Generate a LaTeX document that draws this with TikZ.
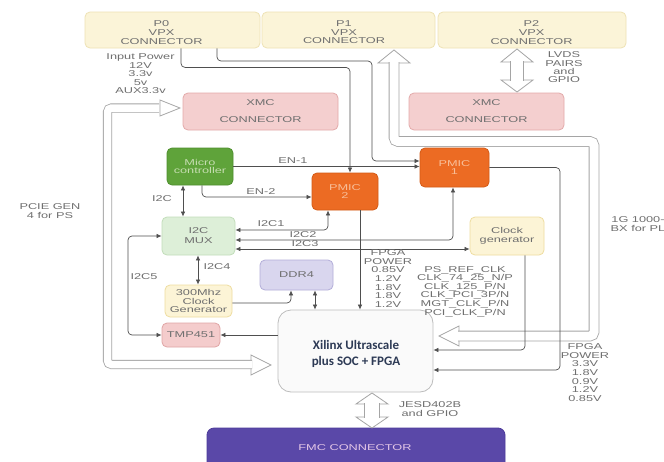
\documentclass[tikz,border=0pt]{standalone}
\usepackage{fontspec}
\newfontfamily\lab[FakeStretch=1.5]{Liberation Sans}
\newfontfamily\xil{Carlito}
\usetikzlibrary{arrows.meta}
\definecolor{labc}{HTML}{6F6F6F}
\definecolor{cline}{HTML}{4F4F4F}
\definecolor{hgray}{HTML}{A5A5A5}
\definecolor{vpxf}{HTML}{FBF4D8}
\definecolor{vpxd}{HTML}{EEE2B5}
\definecolor{xmcf}{HTML}{F4CFCF}
\definecolor{xmcd}{HTML}{E3AAAA}
\definecolor{micf}{HTML}{5FA33A}
\definecolor{micd}{HTML}{4E8F2E}
\definecolor{mict}{HTML}{C5DDB0}
\definecolor{pmif}{HTML}{EC6B23}
\definecolor{pmid}{HTML}{D45A15}
\definecolor{pmit}{HTML}{F8BE98}
\definecolor{muxf}{HTML}{DDEFD8}
\definecolor{muxd}{HTML}{C2DDBA}
\definecolor{clkf}{HTML}{FCF4D6}
\definecolor{clkd}{HTML}{EEDDA0}
\definecolor{ddrf}{HTML}{D9D6EE}
\definecolor{ddrd}{HTML}{B3AED9}
\definecolor{tmpf}{HTML}{F4CCCC}
\definecolor{tmpd}{HTML}{E0A5A5}
\definecolor{fpgf}{HTML}{FAFAFA}
\definecolor{fpgd}{HTML}{BDBDBD}
\definecolor{fpgt}{HTML}{2D3A55}
\definecolor{fmcf}{HTML}{5A48A8}
\definecolor{fmcd}{HTML}{4C3A9A}
\definecolor{fmct}{HTML}{E3C6E6}
\begin{document}
\begin{tikzpicture}[x=1pt,y=-1pt,
  lab/.style={font=\lab\fontsize{8.5pt}{8.6pt}\selectfont, text=labc, align=center, inner sep=0pt},
  box/.style={draw, rounded corners=5pt, line width=0.8pt, inner sep=0pt, align=center,
    font=\lab\fontsize{8.5pt}{8.6pt}\selectfont, text=labc},
  arr/.style={draw=cline, line width=0.7pt, rounded corners=4pt, -{Latex[length=5pt,width=4.5pt]}},
  barr/.style={draw=cline, line width=0.7pt, rounded corners=4pt, {Latex[length=5pt,width=4.5pt]}-{Latex[length=5pt,width=4.5pt]}},
  hol/.style={draw=hgray, line width=0.8pt, fill=white, line join=miter},
  hshaft/.style={draw=hgray, line width=0.8pt, double=white, double distance=#1, rounded corners=4pt}]
\useasboundingbox (0,0) rectangle (664,461);
\fill[white] (0,0) rectangle (664,461);

% ---------- boxes ----------
\node[box, fill=vpxf, draw=vpxd, minimum width=175pt, minimum height=36pt] (p0) at (172.5,30) {};
\node[lab] (p0t) at (161.5,32.5) {P0\\VPX\\CONNECTOR};
\node[box, fill=vpxf, draw=vpxd, minimum width=173pt, minimum height=36pt] (p1) at (348.5,30) {};
\node[lab] (p1t) at (344,32.5) {P1\\VPX\\CONNECTOR};
\node[box, fill=vpxf, draw=vpxd, minimum width=188pt, minimum height=36pt] (p2) at (532,30) {};
\node[lab] (p2t) at (531.5,32.5) {P2\\VPX\\CONNECTOR};

\node[box, fill=xmcf, draw=xmcd, minimum width=155pt, minimum height=37pt] (xmcL) at (260.5,111.5) {XMC\\[8.4pt]CONNECTOR};
\node[box, fill=xmcf, draw=xmcd, minimum width=155pt, minimum height=37pt] (xmcR) at (486.5,111.5) {XMC\\[8.4pt]CONNECTOR};

\node[box, fill=micf, draw=micd, text=mict, minimum width=66pt, minimum height=37pt] (micro) at (200,166.5) {Micro\\controller};
\node[box, fill=pmif, draw=pmid, text=pmit, minimum width=66pt, minimum height=37pt] (pmic2) at (345,191.5) {PMIC\\2};
\node[box, fill=pmif, draw=pmid, text=pmit, minimum width=69pt, minimum height=39pt] (pmic1) at (454.5,167.5) {PMIC\\1};

\node[box, fill=muxf, draw=muxd, minimum width=73pt, minimum height=38pt, font=\lab\fontsize{8.5pt}{10pt}\selectfont] (mux) at (198.5,236) {I2C\\MUX};
\node[box, fill=clkf, draw=clkd, minimum width=74pt, minimum height=38pt] (clkgen) at (507,236) {Clock\\generator};
\node[box, fill=clkf, draw=clkd, minimum width=67pt, minimum height=32pt] (clk300) at (198.5,301) {300Mhz\\Clock\\Generator};
\node[box, fill=ddrf, draw=ddrd, minimum width=73pt, minimum height=30pt] (ddr4) at (296.5,275) {DDR4};
\node[box, fill=tmpf, draw=tmpd, minimum width=58pt, minimum height=24pt] (tmp) at (191,335) {TMP451};

\node[box, fill=fpgf, draw=fpgd, rounded corners=13pt, minimum width=155pt, minimum height=82pt] (fpga) at (355.5,351) {};
\node[inner sep=0pt, align=center, text=fpgt, font=\xil\bfseries\fontsize{13pt}{16.5pt}\selectfont] (fpgat) at (356,354) {Xilinx Ultrascale\\plus SOC + FPGA};

\node[box, fill=fmcf, draw=fmcd, rounded corners=7pt, minimum width=298pt, minimum height=44pt] (fmc) at (356,450) {};
\node[lab, text=fmct] (fmct) at (355,448) {FMC CONNECTOR};

% ---------- hollow arrows ----------
% PCIE U-arrow
\draw[hol] (180,108) -- (160,100) -- (160,116) -- cycle;
\draw[hol] (271,365) -- (251,355) -- (251,375) -- cycle;
\draw[hshaft=7.5pt] (159,108) -- (107.5,108) -- (107.5,364.5) -- (252,364.5);
% 1G arrow
\draw[hol] (394,50) -- (378,63) -- (410,63) -- cycle;
\draw[hol] (439,336) -- (459,326) -- (459,346) -- cycle;
\draw[hshaft=9pt] (394,62) -- (394,141.5) -- (594,141.5) -- (594,336) -- (458,336);
% LVDS arrow
\draw[hol] (517,49) -- (501,62) -- (533,62) -- cycle;
\draw[hol] (517,92) -- (501,80) -- (533,80) -- cycle;
\draw[hshaft=12pt] (517,61) -- (517,81);
% JESD arrow
\draw[hol] (372,393) -- (356,404) -- (388,404) -- cycle;
\draw[hol] (372,428) -- (356,417) -- (388,417) -- cycle;
\draw[hshaft=14pt] (372,403) -- (372,418);

% ---------- connectors ----------
\draw[arr] ([xshift=8.5pt]p0.south) -- ++(0,19) -| ([xshift=5pt]pmic2.north);
\draw[arr] ([xshift=44.5pt]p0.south) |- (372,61) |- (pmic1.west |- 0,161);
\draw[arr] (micro.east) -- (micro.east -| pmic1.west);
\draw[arr] ([xshift=2pt]micro.south) |- (pmic2.west |- 0,197);
\draw[barr] (micro.south -| 183,0) -- (mux.north -| 183,0);
\draw[barr] (mux.east |- 0,230) -| ([xshift=-17pt]pmic2.south);
\draw[barr] (mux.east |- 0,240) -| (pmic1.south -| 453,0);
\draw[barr] (mux.east |- 0,249) -- (clkgen.west |- 0,249);
\draw[barr] (mux.south -| 198,0) -- (clk300.north -| 198,0);
\draw[barr] (mux.west) -| (128,300) |- (tmp.west);
\draw[arr] (clk300.east |- 0,303) -| (ddr4.south -| 291,0);
\draw[barr] (ddr4.south -| 315,0) -- (fpga.north -| 315,0);
\draw[arr] ([xshift=15pt]pmic2.south) -- (fpga.north -| 360,0);
\draw[arr] (clkgen.south -| 525,0) |- (fpga.east |- 0,350);
\draw[arr] (pmic1.east) -| (560,300) |- (fpga.east |- 0,370);
\draw[arr] (fpga.west |- tmp.east) -- (tmp.east);

% ---------- labels ----------
\node[lab, font=\lab\fontsize{8.5pt}{8.5pt}\selectfont] (inpow) at (140.5,74) {Input Power\\12V\\3.3v\\5v\\AUX3.3v};
\node[lab, font=\lab\fontsize{8.5pt}{8.3pt}\selectfont] (lvds) at (564,67.5) {LVDS\\PAIRS\\and\\GPIO};
\node[lab, font=\lab\fontsize{8.5pt}{8.5pt}\selectfont] (pcie) at (50,211) {PCIE GEN\\4 for PS};
\node[lab, font=\lab\fontsize{8.5pt}{8.5pt}\selectfont] (gbe) at (638,224) {1G 1000-\\BX for PL};
\node[lab] (en1) at (293,161) {EN-1};
\node[lab] (en2) at (261,192) {EN-2};
\node[lab] (i2c) at (162,199) {I2C};
\node[lab] (i2c1) at (271,223.5) {I2C1};
\node[lab] (i2c2) at (303,235) {I2C2};
\node[lab] (i2c3) at (305,244) {I2C3};
\node[lab] (i2c4) at (217,267) {I2C4};
\node[lab] (i2c5) at (144,277) {I2C5};
\node[lab] (fpow1) at (388,278.5) {FPGA\\POWER\\0.85V\\1.2V\\1.8V\\1.8V\\1.2V};
\node[lab] (clks) at (465,291.5) {PS\_REF\_CLK\\CLK\_74\_25\_N/P\\CLK\_125\_P/N\\CLK\_PCI\_3P/N\\MGT\_CLK\_P/N\\PCI\_CLK\_P/N};
\node[lab] (fpow2) at (585,372.5) {FPGA\\POWER\\3.3V\\1.8V\\0.9V\\1.2V\\0.85V};
\node[lab] (jesd) at (430,409) {JESD402B\\and GPIO};
\end{tikzpicture}
\end{document}
